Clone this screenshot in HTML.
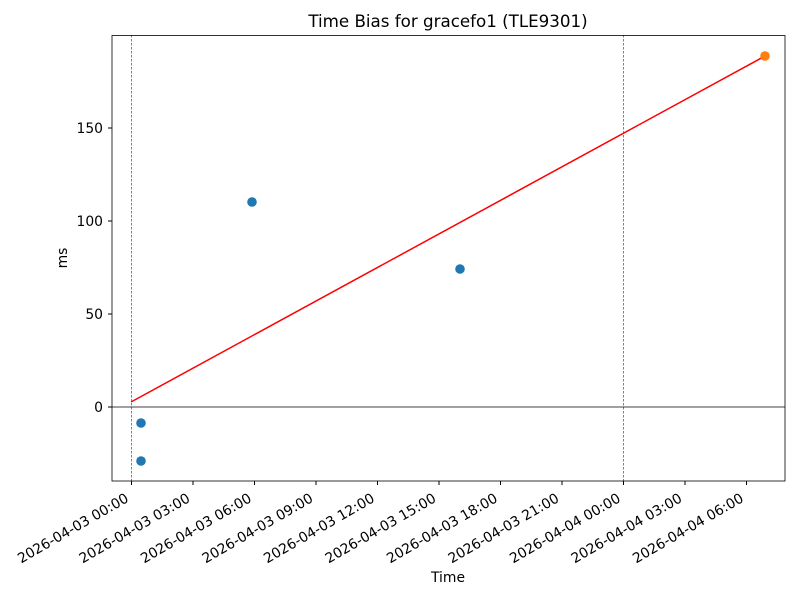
<!DOCTYPE html>
<html><head><meta charset="utf-8"><style>
html,body{margin:0;padding:0;background:#fff;}
svg{display:block;font-family:"DejaVu Sans","Liberation Sans",sans-serif;}
</style></head><body>
<svg width="800" height="600" xmlns="http://www.w3.org/2000/svg">
<rect width="800" height="600" fill="#fff"/>
<text x="448" y="27" font-size="16.7" text-anchor="middle">Time Bias for gracefo1 (TLE9301)</text>
<line x1="131.5" y1="35" x2="131.5" y2="481" stroke="#1f77b4" stroke-width="0.8" stroke-dasharray="2.5,1.5"/>
<line x1="623.5" y1="35" x2="623.5" y2="481" stroke="#1f77b4" stroke-width="0.8" stroke-dasharray="2.5,1.5"/>
<line x1="112" y1="407" x2="785" y2="407" stroke="#000" stroke-width="0.8"/>
<line x1="131" y1="402" x2="765" y2="56" stroke="#ff0000" stroke-width="1.5"/>
<g fill="#1f77b4">
<circle cx="141" cy="423" r="4.8"/>
<circle cx="141" cy="461" r="4.8"/>
<circle cx="252" cy="202" r="4.8"/>
<circle cx="460" cy="269" r="4.8"/>
</g>
<circle cx="765" cy="56" r="4.8" fill="#ff7f0e"/>
<rect x="112" y="35.5" width="673" height="445.5" fill="none" stroke="#000" stroke-width="0.8"/>
<g font-size="13.9" text-anchor="end">
<line x1="108" y1="407" x2="112" y2="407" stroke="#000"/><text x="103" y="412">0</text>
<line x1="108" y1="314" x2="112" y2="314" stroke="#000"/><text x="103" y="319">50</text>
<line x1="108" y1="221" x2="112" y2="221" stroke="#000"/><text x="103" y="226">100</text>
<line x1="108" y1="128" x2="112" y2="128" stroke="#000"/><text x="103" y="133">150</text>
</g>
<text x="67" y="258" font-size="13.9" text-anchor="middle" transform="rotate(-90 67 258)">ms</text>
<g font-size="13.9" text-anchor="end">
<g transform="translate(131.5,481)"><line y1="0" y2="4" stroke="#000"/><text transform="translate(-2,20) rotate(-30)">2026-04-03 00:00</text></g>
<g transform="translate(193,481)"><line y1="0" y2="4" stroke="#000"/><text transform="translate(-2,20) rotate(-30)">2026-04-03 03:00</text></g>
<g transform="translate(254.5,481)"><line y1="0" y2="4" stroke="#000"/><text transform="translate(-2,20) rotate(-30)">2026-04-03 06:00</text></g>
<g transform="translate(316,481)"><line y1="0" y2="4" stroke="#000"/><text transform="translate(-2,20) rotate(-30)">2026-04-03 09:00</text></g>
<g transform="translate(377.5,481)"><line y1="0" y2="4" stroke="#000"/><text transform="translate(-2,20) rotate(-30)">2026-04-03 12:00</text></g>
<g transform="translate(439,481)"><line y1="0" y2="4" stroke="#000"/><text transform="translate(-2,20) rotate(-30)">2026-04-03 15:00</text></g>
<g transform="translate(500.5,481)"><line y1="0" y2="4" stroke="#000"/><text transform="translate(-2,20) rotate(-30)">2026-04-03 18:00</text></g>
<g transform="translate(562,481)"><line y1="0" y2="4" stroke="#000"/><text transform="translate(-2,20) rotate(-30)">2026-04-03 21:00</text></g>
<g transform="translate(623.5,481)"><line y1="0" y2="4" stroke="#000"/><text transform="translate(-2,20) rotate(-30)">2026-04-04 00:00</text></g>
<g transform="translate(685,481)"><line y1="0" y2="4" stroke="#000"/><text transform="translate(-2,20) rotate(-30)">2026-04-04 03:00</text></g>
<g transform="translate(746.5,481)"><line y1="0" y2="4" stroke="#000"/><text transform="translate(-2,20) rotate(-30)">2026-04-04 06:00</text></g>
</g>
<text x="448" y="582" font-size="13.9" text-anchor="middle">Time</text>
</svg>
</body></html>
